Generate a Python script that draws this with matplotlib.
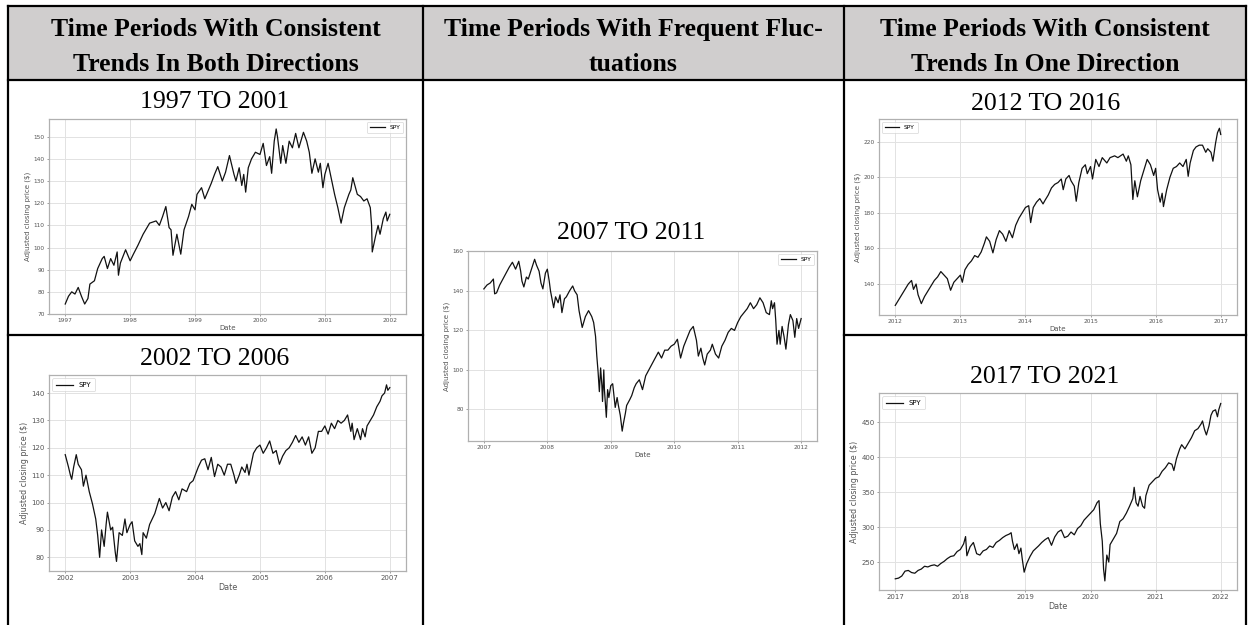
import matplotlib
matplotlib.use("Agg")
import matplotlib.pyplot as plt
from matplotlib.lines import Line2D
from matplotlib.patches import Rectangle

# header texts
headers = [
    ["Time Periods With Consistent", "Trends In Both Directions"],
    ["Time Periods With Frequent Fluc-", "tuations"],
    ["Time Periods With Consistent", "Trends In One Direction"],
]

# SPY adjusted close (decimal years / price)
t1 = [1997.0, 1997.05, 1997.1, 1997.15, 1997.2, 1997.25, 1997.3, 1997.35, 1997.38, 1997.45,
      1997.5, 1997.57, 1997.6, 1997.65, 1997.7, 1997.75, 1997.8, 1997.82, 1997.85, 1997.93,
      1998.0, 1998.05, 1998.12, 1998.2, 1998.3, 1998.4, 1998.45, 1998.5, 1998.55, 1998.6,
      1998.63, 1998.66, 1998.72, 1998.78, 1998.83, 1998.9, 1998.95,
      1999.0, 1999.03, 1999.1, 1999.15, 1999.25, 1999.3, 1999.35, 1999.42, 1999.47, 1999.53,
      1999.6, 1999.63, 1999.68, 1999.72, 1999.75, 1999.78, 1999.82, 1999.87, 1999.93,
      2000.0, 2000.05, 2000.1, 2000.15, 2000.18, 2000.22, 2000.25, 2000.27, 2000.32, 2000.35,
      2000.4, 2000.45, 2000.5, 2000.55, 2000.6, 2000.67, 2000.72, 2000.76, 2000.8, 2000.85,
      2000.9, 2000.93, 2000.97,
      2001.0, 2001.05, 2001.1, 2001.15, 2001.2, 2001.25, 2001.3, 2001.37, 2001.4, 2001.43,
      2001.5, 2001.55, 2001.6, 2001.65, 2001.7, 2001.72, 2001.73, 2001.78, 2001.82, 2001.85,
      2001.9, 2001.94, 2001.96, 2002.0]
p1 = [74.5, 78, 80, 79, 82, 78, 74.5, 77, 83.5, 85,
      90.5, 95, 96, 90.5, 95, 92, 98, 87.5, 93, 99,
      94, 97, 101, 106, 111, 112, 110, 114, 118.5, 109,
      108, 96.5, 106, 97, 108, 114, 119.5,
      117, 124, 127, 122, 129, 133, 136.5, 130, 134, 141.5,
      133, 130, 136, 128, 133, 125, 136, 140, 143,
      142, 147, 137, 141, 133.5, 148, 153.5, 150, 138, 146,
      138, 148, 145, 151.5, 145, 152, 148, 143, 133.5, 140,
      134, 138, 127,
      133, 138, 131, 124, 118, 111, 118, 124, 126, 131.5,
      124, 123, 121, 122, 118, 110, 98, 105, 110, 106,
      113, 116, 112, 115]

t2 = [2002.0, 2002.05, 2002.08, 2002.1, 2002.13, 2002.17, 2002.2, 2002.25, 2002.28, 2002.32,
      2002.37, 2002.42, 2002.47, 2002.5, 2002.53, 2002.56, 2002.6, 2002.63, 2002.65, 2002.7,
      2002.73, 2002.77, 2002.79, 2002.83, 2002.88, 2002.92, 2002.95,
      2003.0, 2003.03, 2003.07, 2003.12, 2003.15, 2003.18, 2003.2, 2003.25, 2003.3, 2003.38,
      2003.45, 2003.5, 2003.55, 2003.6, 2003.65, 2003.7, 2003.75, 2003.8, 2003.87, 2003.92, 2003.97,
      2004.05, 2004.1, 2004.15, 2004.2, 2004.25, 2004.3, 2004.35, 2004.4, 2004.45, 2004.5,
      2004.55, 2004.6, 2004.63, 2004.68, 2004.72, 2004.77, 2004.8, 2004.83, 2004.9, 2004.95,
      2005.0, 2005.05, 2005.1, 2005.15, 2005.2, 2005.25, 2005.3, 2005.35, 2005.4, 2005.45,
      2005.5, 2005.55, 2005.6, 2005.65, 2005.7, 2005.75, 2005.8, 2005.85, 2005.9, 2005.95,
      2006.0, 2006.05, 2006.1, 2006.15, 2006.2, 2006.25, 2006.3, 2006.35, 2006.4, 2006.42,
      2006.45, 2006.5, 2006.55, 2006.58, 2006.62, 2006.65, 2006.7, 2006.75, 2006.8, 2006.85,
      2006.88, 2006.92, 2006.95, 2006.97, 2007.0]
p2 = [117.5, 113, 110, 108.5, 113, 117.5, 114, 112, 106, 110,
      104, 99.5, 94, 88, 80, 90, 84, 92, 96.5, 90,
      91, 82, 78.5, 89, 88, 94, 89,
      92, 93, 86, 84, 85, 81, 89, 87, 92, 96,
      101.5, 98, 100, 97, 102, 104, 101, 105, 104, 107, 108,
      113, 115.5, 116, 112, 116.5, 109.5, 114, 113, 110, 114,
      114, 110, 107, 110, 113, 111, 114, 110, 118, 120,
      121, 118, 120, 122.5, 118, 119, 114, 117, 119, 120,
      122, 124.5, 122, 124, 121, 124, 118, 120, 126, 126,
      128, 125, 129, 127, 130, 129, 130, 132, 126, 129,
      123, 127, 123, 127, 124, 128, 130, 132, 135, 137,
      139, 140, 143, 141, 142]

t3 = [2007.0, 2007.05, 2007.1, 2007.15, 2007.17, 2007.2, 2007.25, 2007.3, 2007.35, 2007.4,
      2007.45, 2007.5, 2007.55, 2007.58, 2007.6, 2007.63, 2007.67, 2007.7, 2007.75, 2007.78,
      2007.8, 2007.83, 2007.87, 2007.9, 2007.93, 2007.97,
      2008.0, 2008.03, 2008.05, 2008.1, 2008.13, 2008.17, 2008.2, 2008.23, 2008.27, 2008.3,
      2008.35, 2008.4, 2008.43, 2008.47, 2008.5, 2008.53, 2008.55, 2008.6, 2008.65, 2008.7,
      2008.73, 2008.76, 2008.78, 2008.8, 2008.82, 2008.84, 2008.86, 2008.87, 2008.89, 2008.9,
      2008.93, 2008.95, 2008.97,
      2009.0, 2009.03, 2009.05, 2009.07, 2009.1, 2009.12, 2009.15, 2009.18, 2009.2, 2009.23,
      2009.25, 2009.3, 2009.33, 2009.37, 2009.4, 2009.45, 2009.5, 2009.55, 2009.6, 2009.65,
      2009.7, 2009.75, 2009.8, 2009.85, 2009.9, 2009.95,
      2010.0, 2010.05, 2010.1, 2010.15, 2010.2, 2010.25, 2010.3, 2010.35, 2010.38, 2010.42,
      2010.45, 2010.48, 2010.52, 2010.57, 2010.6, 2010.65, 2010.7, 2010.75, 2010.8, 2010.85,
      2010.9, 2010.95,
      2011.0, 2011.05, 2011.1, 2011.15, 2011.2, 2011.25, 2011.3, 2011.35, 2011.4, 2011.45,
      2011.5, 2011.53, 2011.55, 2011.58, 2011.6, 2011.62, 2011.65, 2011.67, 2011.7, 2011.73,
      2011.76, 2011.8, 2011.83, 2011.87, 2011.9, 2011.93, 2011.96, 2012.0]
p3 = [141, 143, 144, 146, 138.5, 139, 143, 146, 149, 152,
      154.5, 151, 155, 150, 145, 142, 147, 146, 151, 154,
      156, 153, 150, 144, 141, 149,
      151, 145, 140, 131.5, 137, 134, 138, 129, 136, 137,
      140, 142.5, 140, 138, 130, 125, 121.5, 127, 130, 127,
      124, 117, 107, 99, 89, 101, 92, 84, 100, 90,
      76, 90, 86,
      92, 93, 87, 81, 86, 82, 77, 69, 73, 78,
      82, 85, 87, 91, 93, 95, 90, 97, 100, 103,
      106, 109, 106, 110, 110, 112,
      113, 115.5, 106, 112, 116, 120, 122, 115, 107, 111,
      106, 102.5, 108, 110, 113, 108, 106, 112, 115, 119,
      121, 120,
      124, 127, 129, 131, 134, 131, 133, 136.5, 134, 129,
      128, 135, 131, 134, 125, 113, 120, 113, 122, 117,
      110.5, 123, 128, 125, 116.5, 126, 121, 126]

t4 = [2012.0, 2012.05, 2012.1, 2012.15, 2012.2, 2012.25, 2012.28, 2012.32, 2012.35, 2012.4,
      2012.45, 2012.5, 2012.55, 2012.6, 2012.65, 2012.7, 2012.75, 2012.8, 2012.85, 2012.9, 2012.95,
      2013.0, 2013.03, 2013.07, 2013.12, 2013.17, 2013.22, 2013.27, 2013.32, 2013.37, 2013.4,
      2013.45, 2013.5, 2013.55, 2013.6, 2013.65, 2013.7, 2013.75, 2013.8, 2013.85, 2013.9, 2013.95,
      2014.0, 2014.05, 2014.08, 2014.12, 2014.17, 2014.22, 2014.27, 2014.3, 2014.35, 2014.4,
      2014.45, 2014.5, 2014.55, 2014.58, 2014.62, 2014.67, 2014.7, 2014.75, 2014.78, 2014.82,
      2014.87, 2014.92, 2014.95,
      2015.0, 2015.03, 2015.08, 2015.13, 2015.18, 2015.25, 2015.3, 2015.37, 2015.42, 2015.5,
      2015.55, 2015.58, 2015.62, 2015.65, 2015.68, 2015.72, 2015.77, 2015.82, 2015.87, 2015.92, 2015.97,
      2016.0, 2016.03, 2016.07, 2016.1, 2016.12, 2016.17, 2016.22, 2016.27, 2016.32, 2016.37,
      2016.42, 2016.47, 2016.5, 2016.53, 2016.58, 2016.62, 2016.67, 2016.72, 2016.77, 2016.8,
      2016.85, 2016.88, 2016.92, 2016.95, 2016.98, 2017.0]
p4 = [128, 131, 134, 137, 140, 142, 137, 140, 134, 129,
      133, 136, 139, 142, 144, 147, 145, 143, 136.5, 141, 143,
      145, 141, 148, 151, 153, 156, 155, 158, 163, 166.5,
      164, 157.5, 165, 170, 168, 164, 170, 166, 173, 177, 180,
      183, 184, 174.5, 183, 186, 188, 185, 187, 190, 194,
      196, 197, 199, 193, 199, 201, 198, 195, 186.5, 197,
      205, 207, 202,
      206, 199, 210, 206, 211, 208, 211, 212, 211, 213,
      209, 212, 207, 187.5, 198, 189, 198, 204, 210, 207, 201,
      205, 193, 186, 191, 183.5, 193, 200, 205, 206, 208,
      206, 210, 200.5, 208, 215, 217, 218, 218, 214, 216,
      214, 209, 219, 225, 227.5, 224]

t5 = [2017.0, 2017.05, 2017.1, 2017.15, 2017.2, 2017.25, 2017.3, 2017.35, 2017.4, 2017.45,
      2017.5, 2017.55, 2017.6, 2017.65, 2017.7, 2017.75, 2017.8, 2017.85, 2017.9, 2017.95,
      2018.0, 2018.05, 2018.08, 2018.1, 2018.15, 2018.2, 2018.25, 2018.3, 2018.35, 2018.4,
      2018.45, 2018.5, 2018.55, 2018.6, 2018.65, 2018.7, 2018.75, 2018.78, 2018.8, 2018.83,
      2018.87, 2018.9, 2018.93, 2018.95, 2018.98,
      2019.02, 2019.07, 2019.12, 2019.2, 2019.25, 2019.3, 2019.35, 2019.4, 2019.45, 2019.5,
      2019.55, 2019.6, 2019.65, 2019.7, 2019.75, 2019.8, 2019.85, 2019.9, 2019.95,
      2020.0, 2020.05, 2020.1, 2020.13, 2020.15, 2020.18, 2020.2, 2020.22, 2020.25, 2020.28,
      2020.3, 2020.35, 2020.4, 2020.45, 2020.5, 2020.55, 2020.6, 2020.65, 2020.67, 2020.7,
      2020.73, 2020.76, 2020.8, 2020.83, 2020.85, 2020.9, 2020.95,
      2021.0, 2021.05, 2021.1, 2021.15, 2021.2, 2021.25, 2021.28, 2021.32, 2021.37, 2021.4,
      2021.45, 2021.5, 2021.55, 2021.6, 2021.65, 2021.7, 2021.72, 2021.75, 2021.78, 2021.82,
      2021.85, 2021.88, 2021.92, 2021.95, 2021.97, 2022.0]
p5 = [226, 227, 230, 237, 238, 235, 234, 238, 240, 244,
      243, 245, 246, 244, 248, 251, 255, 258, 259, 265,
      268, 276, 286.5, 259, 272, 278, 262, 260, 266, 268,
      273, 271, 278, 281, 285, 288, 290, 292, 280, 268,
      276, 262, 270, 255, 235.5,
      248, 258, 266, 273, 278, 282, 285, 274, 286, 293,
      296, 285, 287, 293, 289, 298, 302, 310, 315,
      320, 325, 335, 338, 305, 280, 240, 223, 260, 250,
      275, 283, 291, 308, 312, 320, 330, 341, 357, 335,
      330, 344, 330, 327, 345, 360, 365,
      370, 372, 380, 385, 392, 390, 381, 398, 412, 418,
      412, 420, 428, 438, 441, 448, 452, 440, 432, 445,
      460, 466, 468, 458, 468, 477]

W, H = 1248, 625
fig = plt.figure(figsize=(W / 100, H / 100), dpi=100)


def fx(x):
    return x / W


def fy(y):
    return 1 - y / H


def hline(x0, x1, y):
    fig.add_artist(Line2D([fx(x0), fx(x1)], [fy(y), fy(y)], transform=fig.transFigure,
                          color="black", lw=1.6, solid_capstyle="projecting"))


def vline(x, y0, y1):
    fig.add_artist(Line2D([fx(x), fx(x)], [fy(y0), fy(y1)], transform=fig.transFigure,
                          color="black", lw=1.6, solid_capstyle="projecting"))


# table frame
cols = [8, 423, 844, 1246]
fig.add_artist(Rectangle((fx(8), fy(80)), (1246 - 8) / W, (80 - 6) / H,
                         transform=fig.transFigure, facecolor="#d0cece", edgecolor="none"))
hline(8, 1246, 6)
hline(8, 1246, 80)
hline(8, 423, 335)
hline(844, 1246, 335)
for x in cols:
    vline(x, 6, 640)

serif = ["Liberation Serif", "DejaVu Serif"]
for i, (l1, l2) in enumerate(headers):
    cx = fx((cols[i] + cols[i + 1]) / 2)
    fig.text(cx, fy(36), l1, ha="center", va="baseline", family=serif,
             fontsize=18.5, fontweight="bold")
    fig.text(cx, fy(71), l2, ha="center", va="baseline", family=serif,
             fontsize=18.5, fontweight="bold")

# (title, x, y, title pos, axes box px: left, right, top, bottom, legend, yticks, ylim, font)
panels = [
    ("1997 TO 2001", t1, p1, (215, 108), (49, 406, 119, 314), "upper right",
     range(70, 151, 10), (70, 158), 4.2),
    ("2002 TO 2006", t2, p2, (215, 365), (49, 406, 375, 571), "upper left",
     range(80, 141, 10), (75, 146.6), 5.0),
    ("2007 TO 2011", t3, p3, (631, 239), (468, 817, 251, 441), "upper right",
     range(80, 161, 20), (64, 160.2), 4.2),
    ("2012 TO 2016", t4, p4, (1046, 110), (879, 1237, 119, 315), "upper left",
     range(140, 221, 20), (122.6, 232.7), 4.2),
    ("2017 TO 2021", t5, p5, (1045, 383), (879, 1237, 393, 590), "upper left",
     range(250, 451, 50), (210, 492), 5.0),
]

for title, t, p, (tx, ty), (x0, x1, top, bot), loc, yt, yl, fs in panels:
    fig.text(fx(tx), fy(ty), title, ha="center", va="baseline", family=serif, fontsize=18.5)
    ax = fig.add_axes([fx(x0), fy(bot), (x1 - x0) / W, (bot - top) / H])
    ax.plot(t, p, color="#111111", lw=0.9, label="SPY")
    start = int(t[0])
    years = list(range(start, start + 6))
    ax.set_xticks(years)
    ax.set_xticklabels([str(y) for y in years])
    ax.set_yticks(list(yt))
    ax.set_ylim(*yl)
    ax.grid(True, color="#e2e2e2", lw=0.7)
    ax.set_axisbelow(True)
    for s in ax.spines.values():
        s.set_color("#b0b0b0")
        s.set_linewidth(0.9)
    ax.tick_params(labelsize=fs, colors="#555555", length=1.5, width=0.4, pad=1.5)
    ax.set_xlabel("Date", fontsize=fs + 0.8, color="#555555", labelpad=1)
    ax.set_ylabel("Adjusted closing price ($)", fontsize=fs + 0.8, color="#555555", labelpad=2)
    leg = ax.legend(loc=loc, fontsize=fs, frameon=True, handlelength=2.5,
                    borderpad=0.5, fancybox=True)
    leg.get_frame().set_edgecolor("#cccccc")
    leg.get_frame().set_linewidth(0.5)

fig.savefig("out.png", dpi=100)
